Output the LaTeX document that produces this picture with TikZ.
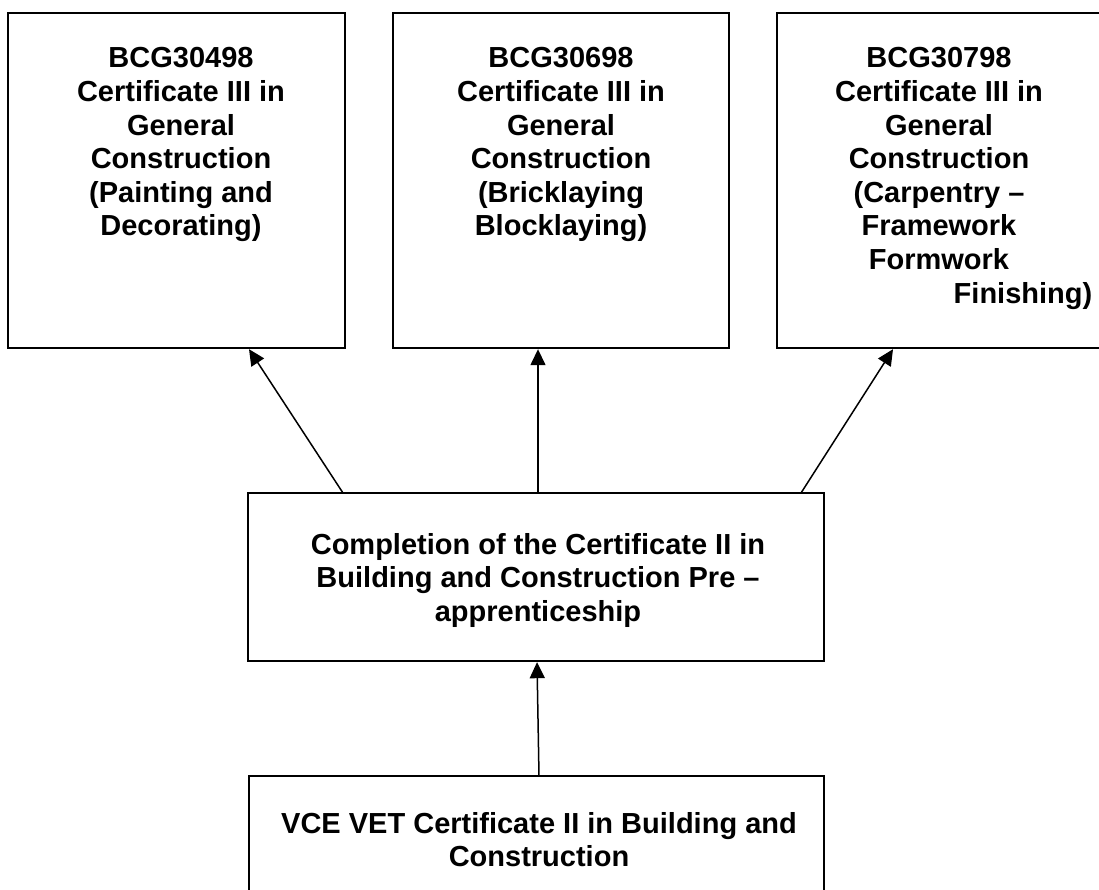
\documentclass[tikz,border=0pt]{standalone}
\usepackage{fontspec}
\setmainfont{Liberation Sans}
\usetikzlibrary{arrows.meta,calc}
\begin{document}
\begin{tikzpicture}[x=1pt,y=-1pt,
  box/.style={draw=black,line width=2.4pt,anchor=north west,inner sep=0pt,outer sep=0pt},
  lbl/.style={font=\fontsize{29}{33.6}\selectfont\bfseries,align=center,anchor=north,inner sep=0pt},
  arr/.style={line width=1.5pt,-{Triangle[length=16pt,width=15pt]}}]
\clip (0,0) rectangle (1099,890);
\fill[white] (0,0) rectangle (1099,890);
% boxes
\node[box,minimum width=337pt,minimum height=335pt] (b1) at (8,13) {};
\node[box,minimum width=336pt,minimum height=335pt] (b2) at (393,13) {};
\node[box,minimum width=337pt,minimum height=335pt] (b3) at (777,13) {};
\node[box,minimum width=576pt,minimum height=168pt] (mid) at (248,493) {};
\node[box,minimum width=575pt,minimum height=200pt] (bot) at (249,776) {};
% texts
\node[lbl] (t1) at (181,47.5) {BCG30498\\Certificate III in\\General\\Construction\\(Painting and\\Decorating)};
\node[lbl] (t2) at (561,47.5) {BCG30698\\Certificate III in\\General\\Construction\\(Bricklaying\\Blocklaying)};
\node[lbl] (t3) at (939,47.5) {BCG30798\\Certificate III in\\General\\Construction\\(Carpentry –\\Framework\\Formwork\\\hspace*{168pt}Finishing)};
\node[lbl] (tm) at (538,533) {Completion of the Certificate II in\\Building and Construction Pre –\\apprenticeship};
\node[lbl] (tb) at (539,812) {VCE VET Certificate II in Building and\\Construction};
% arrows
\draw[arr] ($(mid.north west)+(95,0)$) -- ($(b1.south west)+(241,1.2)$);
\draw[arr] ($(mid.north west)+(290,0)$) -- ($(b2.south west)+(145,1.2)$);
\draw[arr] ($(mid.north west)+(553,0)$) -- ($(b3.south west)+(116,1.2)$);
\draw[arr] ($(bot.north west)+(290,0)$) -- ($(mid.south west)+(289,1.2)$);
\end{tikzpicture}
\end{document}
